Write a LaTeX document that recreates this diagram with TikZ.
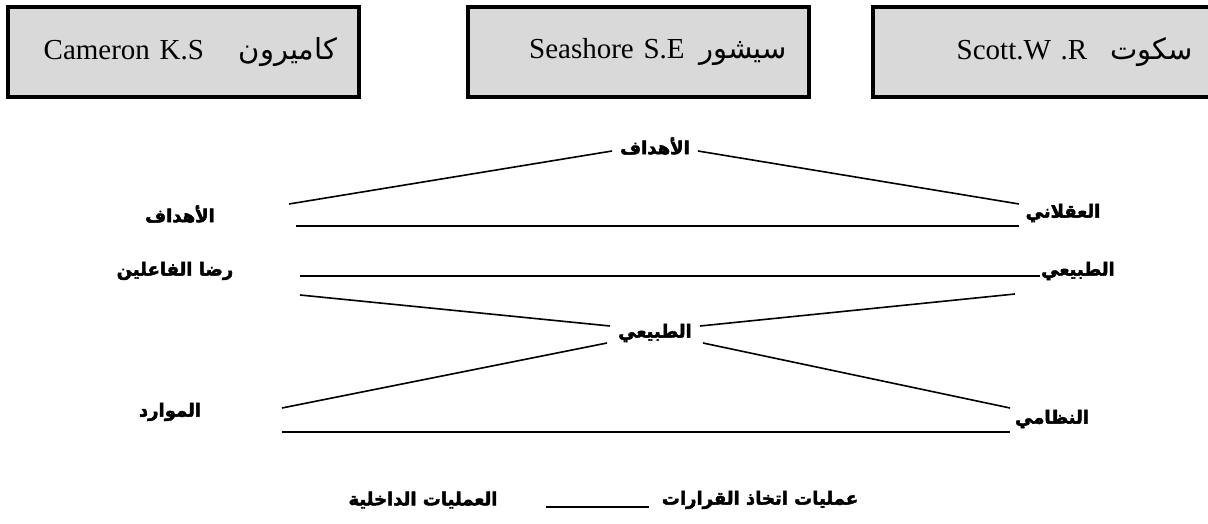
\documentclass[tikz,border=0pt]{standalone}
\usepackage{fontspec}
\setmainfont{Liberation Serif}
\newfontfamily\arabicfont[Script=Arabic]{DejaVu Sans}
\newfontfamily\arabicbold[Script=Arabic, FakeBold=2.5]{DejaVu Sans Bold}
\TeXXeTstate=1
\usetikzlibrary{positioning}

\begin{document}
\begin{tikzpicture}[x=1pt, y=-1pt,
    authorbox/.style={draw, line width=3.8pt, fill=boxgray, minimum height=90pt,
      inner xsep=22pt, align=right, font=\fontsize{29}{34}\selectfont},
    term/.style={inner sep=0pt, font=\fontsize{18}{22}\arabicbold},
    link/.style={line width=1.6pt}]
    % Define colors
    \definecolor{boxgray}{RGB}{217, 217, 217}

    \useasboundingbox (0,0) rectangle (1208,524);

    % Author boxes
    \node[authorbox, minimum width=351pt, text width=307pt] (cameron) at (183.5,52)
      {Cameron K.S\hspace{1.2em}{\arabicfont\beginR كاميرون\endR}};
    \node[authorbox, minimum width=341pt, text width=297pt] (seashore) at (638.5,52)
      {Seashore S.E\hspace{0.5em}{\arabicfont\beginR سيشور\endR}};
    \node[authorbox, minimum width=342pt, text width=298pt] (scott) at (1044,52)
      {Scott.W .R\hspace{0.8em}{\arabicfont\beginR سكوت\endR}};

    % Terms
    \node[term] (goaltop) at (655,146) {\beginR الأهداف\endR};
    \node[term] (goalleft) at (180,214) {\beginR الأهداف\endR};
    \node[term] (satisfy) at (175,271) {\beginR رضا الفاعلين\endR};
    \node[term] (resources) at (170,412) {\beginR الموارد\endR};
    \node[term] (rational) at (1063,213) {\beginR العقلاني\endR};
    \node[term] (natright) at (1078,271) {\beginR الطبيعي\endR};
    \node[term] (systemic) at (1052,419) {\beginR النظامي\endR};
    \node[term] (natmid) at (655,333) {\beginR الطبيعي\endR};
    \node[term] (internal) at (423,500) {\beginR العمليات الداخلية\endR};
    \node[term] (decision) at (760,500) {\beginR عمليات اتخاذ القرارات\endR};

    % Free ends of the links
    \coordinate (ga) at (289,204);
    \coordinate (gb) at (612,151);
    \coordinate (gc) at (698,151);
    \coordinate (gd) at (1019,204);
    \coordinate (ha) at (296,226);
    \coordinate (hb) at (1019,226);
    \coordinate (sa) at (300,276);
    \coordinate (sb) at (1040,276);
    \coordinate (xa) at (300,295);
    \coordinate (xb) at (610,326);
    \coordinate (xc) at (700,326);
    \coordinate (xd) at (1015,294);
    \coordinate (ya) at (282,408);
    \coordinate (yb) at (607,343);
    \coordinate (yc) at (703,343);
    \coordinate (yd) at (1010,408);
    \coordinate (ra) at (282,432);
    \coordinate (rb) at (1010,432);
    \coordinate (ba) at (546,507);
    \coordinate (bb) at (649,507);

    % Links
    \draw[link] (ga) -- (gb);
    \draw[link] (gc) -- (gd);
    \draw[link] (ha) -- (hb);
    \draw[link] (sa) -- (sb);
    \draw[link] (xa) -- (xb);
    \draw[link] (xc) -- (xd);
    \draw[link] (ya) -- (yb);
    \draw[link] (yc) -- (yd);
    \draw[link] (ra) -- (rb);
    \draw[link] (ba) -- (bb);

\end{tikzpicture}
\end{document}
